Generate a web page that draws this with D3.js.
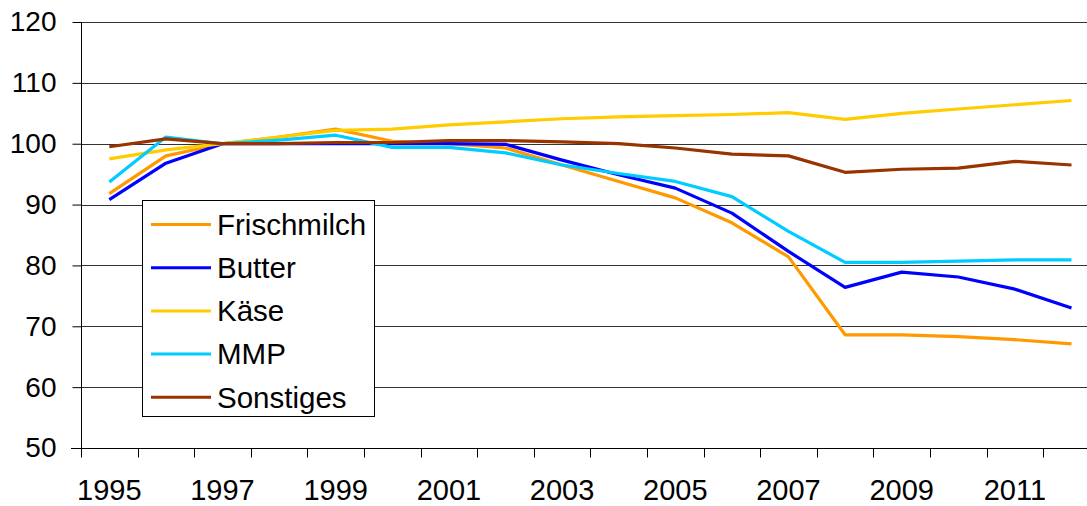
<!DOCTYPE html>
<html>
<head>
<meta charset="utf-8">
<script src="https://cdn.jsdelivr.net/npm/d3@7"></script>
<style>
  html, body { margin: 0; padding: 0; background: #fff; }
  svg { display: block; font-family: "Liberation Sans", Arial, sans-serif; }
</style>
</head>
<body>
<svg id="chart" width="1087" height="506"></svg>
<script>
const years = [1995,1996,1997,1998,1999,2000,2001,2002,2003,2004,2005,2006,2007,2008,2009,2010,2011,2012];
const seriesNames = ["Frischmilch", "Butter", "Käse", "MMP", "Sonstiges"];
const seriesColors = ["#FF9900", "#0000FF", "#FFCC00", "#00CCFF", "#993300"];
const frischmilch = [91.8, 98.0, 100, 101.1, 102.4, 100.4, 100.0, 99.3, 96.5, 93.8, 91.1, 87.0, 81.4, 68.6, 68.6, 68.3, 67.8, 67.1];
const butter      = [90.8, 96.8, 100, 100.0, 100.0, 100.0, 100.0, 99.9, 97.3, 94.9, 92.7, 88.6, 82.3, 76.4, 78.9, 78.1, 76.1, 73.0];
const kaese       = [97.5, 99.0, 100, 101.1, 102.2, 102.4, 103.1, 103.6, 104.1, 104.4, 104.6, 104.8, 105.1, 104.0, 105.0, 105.7, 106.4, 107.1];
const mmp         = [93.7, 101.1, 100, 100.6, 101.4, 99.4, 99.4, 98.5, 96.5, 95.1, 93.8, 91.3, 85.6, 80.5, 80.5, 80.7, 80.9, 80.9];
const sonstiges   = [99.5, 100.8, 100, 100.0, 100.2, 100.2, 100.5, 100.5, 100.3, 100.0, 99.3, 98.3, 98.0, 95.3, 95.8, 96.0, 97.1, 96.5];
const yTicks = [50, 60, 70, 80, 90, 100, 110, 120];
const xLabelYears = [1995,1997,1999,2001,2003,2005,2007,2009,2011];

const seriesValues = [frischmilch, butter, kaese, mmp, sonstiges];

const svg = d3.select("#chart");
const plotLeft = 81, plotTop = 22, plotBottom = 448;
const step = 56.6;
const x = d3.scaleBand().domain(years).range([plotLeft, plotLeft + step * years.length]);
const y = d3.scaleLinear().domain([50, 120]).range([plotBottom, plotTop]);
const cx = d => x(d) + x.bandwidth() / 2;
const W = 1087;
const fsY = 28, fsX = 29, fsL = 29.5;

// gridlines
svg.append("g").selectAll("line").data(yTicks.filter(t => t > 50)).join("line")
  .attr("x1", plotLeft).attr("x2", W)
  .attr("y1", d => Math.round(y(d)) + 0.5).attr("y2", d => Math.round(y(d)) + 0.5)
  .attr("stroke", "#333").attr("stroke-width", 1);

// y axis
const yAxis = svg.append("g").attr("transform", `translate(${plotLeft + 0.5},0)`)
  .call(d3.axisLeft(y).tickValues(yTicks).tickSize(9).tickPadding(16).tickFormat(d3.format("d")));
yAxis.select(".domain").attr("stroke", "#000").attr("d", `M0,${plotTop}V${plotBottom}`);
yAxis.selectAll(".tick line").attr("stroke", "#000");
yAxis.selectAll(".tick text").attr("font-size", fsY).attr("fill", "#000")
  .attr("font-family", "'Liberation Sans', Arial, sans-serif");

// x axis
const xg = svg.append("g").attr("transform", `translate(0,${Math.round(plotBottom) + 0.5})`);
xg.append("line").attr("x1", plotLeft - 10).attr("x2", W).attr("y1", 0).attr("y2", 0).attr("stroke", "#000");
xg.selectAll("line.tk").data(years).join("line").attr("class", "tk")
  .attr("x1", d => Math.round(x(d)) + 0.5).attr("x2", d => Math.round(x(d)) + 0.5)
  .attr("y1", 0).attr("y2", 9).attr("stroke", "#000");
xg.selectAll("text").data(xLabelYears).join("text")
  .attr("x", d => cx(d)).attr("y", 51)
  .attr("text-anchor", "middle").attr("font-size", fsX).attr("fill", "#000")
  .text(d => d);

// lines
const line = d3.line().x((d, i) => cx(years[i])).y(d => y(d));
svg.append("g").selectAll("path").data(seriesValues).join("path")
  .attr("d", d => line(d))
  .attr("fill", "none")
  .attr("stroke", (d, i) => seriesColors[i])
  .attr("stroke-width", 3.2)
  .attr("stroke-linejoin", "round");

// legend
const lg = svg.append("g");
lg.append("rect").attr("x", 142.5).attr("y", 200.5).attr("width", 232).attr("height", 216)
  .attr("fill", "#fff").attr("stroke", "#000").attr("stroke-width", 1);
const rows = lg.selectAll("g.row").data(seriesNames).join("g").attr("class", "row")
  .attr("transform", (d, i) => `translate(0,${224.5 + i * 43.2})`);
rows.append("line").attr("x1", 151).attr("x2", 211).attr("y1", 0).attr("y2", 0)
  .attr("stroke", (d, i) => seriesColors[i]).attr("stroke-width", 3);
rows.append("text").attr("x", 217).attr("y", 0).attr("dy", "0.35em")
  .attr("font-size", fsL).attr("fill", "#000").text(d => d);
</script>
</body>
</html>
